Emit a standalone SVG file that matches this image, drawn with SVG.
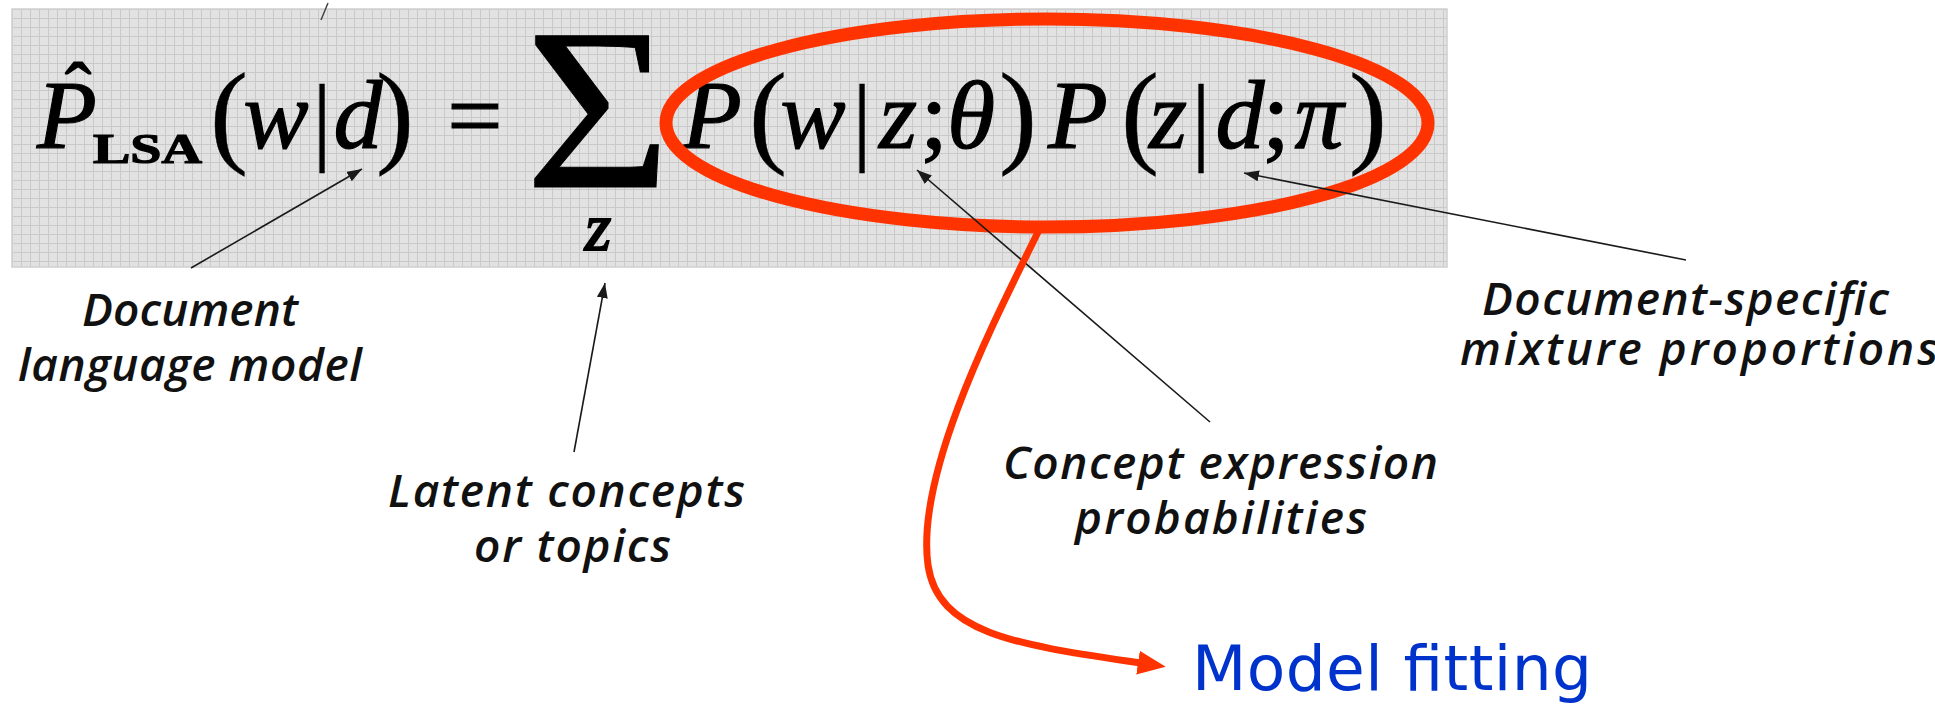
<svg xmlns="http://www.w3.org/2000/svg" width="1935" height="705" viewBox="0 0 1935 705">
<defs>
<pattern id="grid" x="12" y="9" width="9" height="9" patternUnits="userSpaceOnUse">
<rect width="9" height="9" fill="#e2e2e2"/>
<path d="M0.5,0 V9 M0,0.5 H9" stroke="#c9c9c9" stroke-width="1"/>
</pattern>
<marker id="ah" markerUnits="userSpaceOnUse" markerWidth="15" markerHeight="11" refX="15" refY="5.5" orient="auto">
<path d="M0,0 L15,5.5 L0,11 z" fill="#1a1a1a"/>
</marker>
<marker id="rah" markerUnits="userSpaceOnUse" markerWidth="28" markerHeight="24" refX="2" refY="12" orient="auto">
<path d="M0,0 L28,12 L0,24 z" fill="#ff3300"/>
</marker>
</defs>
<style>
.f{font-family:"Liberation Serif","Times New Roman",serif;font-size:98px;fill:#000;stroke:#000;stroke-width:1.2;text-anchor:middle}
.i{font-style:italic}
.par{font-size:114px;stroke-width:0.4}
.lbl{font-family:"Open Sans","DejaVu Sans",sans-serif;font-style:italic;font-weight:600;font-size:46px;fill:#111}
.blue{font-family:"DejaVu Sans","Liberation Sans",sans-serif;font-size:63px;fill:#0033cc}
.arr{stroke:#1a1a1a;stroke-width:1.6;fill:none;marker-end:url(#ah)}
.red{stroke:#ff3300;fill:none}
</style>
<rect width="1935" height="705" fill="#ffffff"/>
<g id="formula-box">
<rect x="12" y="9" width="1435" height="258" fill="url(#grid)" stroke="#cfcfcf" stroke-width="1.5"/>
</g>
<g id="formula">
<text class="f i" x="67" y="148">P</text>
<text class="f" x="78" y="118" style="font-size:80px">ˆ</text>
<text class="f" x="93" y="163" style="font-size:42px;font-weight:bold;text-anchor:start" textLength="109" lengthAdjust="spacingAndGlyphs">LSA</text>
<text class="f par" x="229" y="152">(</text>
<text class="f i" x="276" y="148">w</text>
<text class="f" x="322" y="152" style="stroke-width:0.4">|</text>
<text class="f i" x="358" y="148">d</text>
<text class="f par" x="395" y="152">)</text>
<text class="f" x="475" y="148">=</text>
<text class="f" transform="translate(598,187) scale(1.08,1)" x="0" y="0" style="font-size:232px;stroke-width:1">Σ</text>
<text class="f i" x="598" y="250" style="font-size:68px;stroke-width:2">z</text>
<text class="f i" x="712" y="148">P</text>
<text class="f par" x="768" y="152">(</text>
<text class="f i" x="813" y="148">w</text>
<text class="f" x="862" y="152" style="stroke-width:0.4">|</text>
<text class="f i" x="898" y="148">z</text>
<text class="f" x="934" y="148">;</text>
<text class="f i" x="971" y="148">θ</text>
<text class="f par" x="1018" y="152">)</text>
<text class="f i" x="1078" y="148">P</text>
<text class="f par" x="1140" y="152">(</text>
<text class="f i" x="1168" y="148">z</text>
<text class="f" x="1201" y="152" style="stroke-width:0.4">|</text>
<text class="f i" x="1240" y="148">d</text>
<text class="f" x="1276" y="148">;</text>
<text class="f i" x="1319" y="148">π</text>
<text class="f par" x="1368" y="152">)</text>
</g>
<g id="highlight">
<ellipse cx="1047" cy="123" rx="381" ry="104" class="red" stroke-width="13"/>
</g>
<g id="connectors">
<line x1="328" y1="3" x2="321" y2="20" stroke="#444" stroke-width="1.5"/>
<line class="arr" x1="191" y1="268" x2="362" y2="169"/>
<line class="arr" x1="574" y1="452" x2="605" y2="283"/>
<line class="arr" x1="1210" y1="422" x2="917" y2="170"/>
<line class="arr" x1="1686" y1="260" x2="1244" y2="173"/>
<path class="red" stroke-width="7" d="M1040,228 C1000,310 915,470 928,565 C938,635 1020,645 1140,663" marker-end="url(#rah)"/>
</g>
<g id="label-document-language-model">
<text class="lbl" x="82" y="326" textLength="216" lengthAdjust="spacing">Document</text>
<text class="lbl" x="18" y="381" textLength="344" lengthAdjust="spacing">language model</text>
</g>
<g id="label-latent-concepts">
<text class="lbl" x="388" y="507" textLength="357" lengthAdjust="spacing">Latent concepts</text>
<text class="lbl" x="474" y="562" textLength="197" lengthAdjust="spacing">or topics</text>
</g>
<g id="label-concept-expression">
<text class="lbl" x="1003" y="479" textLength="435" lengthAdjust="spacing">Concept expression</text>
<text class="lbl" x="1075" y="534" textLength="292" lengthAdjust="spacing">probabilities</text>
</g>
<g id="label-mixture-proportions">
<text class="lbl" x="1482" y="315" textLength="407" lengthAdjust="spacing">Document-specific</text>
<text class="lbl" x="1460" y="365" textLength="478" lengthAdjust="spacing">mixture proportions</text>
</g>
<g id="label-model-fitting">
<text class="blue" x="1192" y="690" textLength="400" lengthAdjust="spacing">Model fitting</text>
</g>
</svg>
